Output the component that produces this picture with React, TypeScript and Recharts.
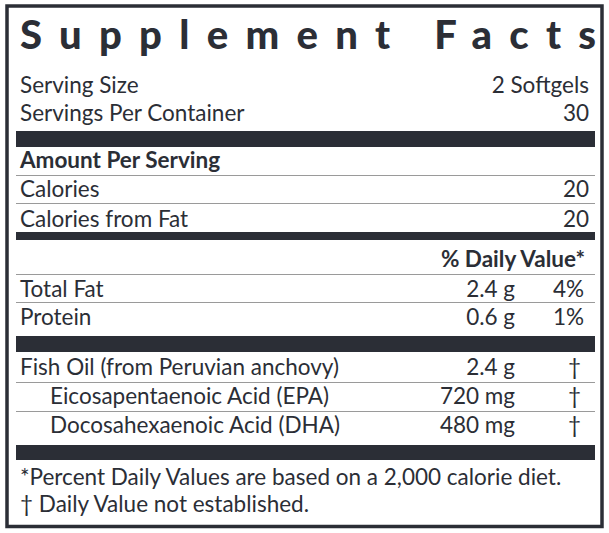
import { Surface, Layer, Text, Rectangle } from 'recharts'

const title = 'Supplement Facts'
const servingLabels = ['Serving Size', 'Servings Per Container']
const servingValues = ['2 Softgels', '30']
const amountHeader = 'Amount Per Serving'
const calorieLabels = ['Calories', 'Calories from Fat']
const calorieValues = [20, 20]
const dvHeader = '% Daily Value*'
const nutrientLabels = ['Total Fat', 'Protein']
const nutrientAmounts = ['2.4 g', '0.6 g']
const nutrientDailyValues = ['4%', '1%']
const oilLabels = [
  'Fish Oil (from Peruvian anchovy)',
  'Eicosapentaenoic Acid (EPA)',
  'Docosahexaenoic Acid (DHA)',
]
const oilIndented = [false, true, true]
const oilAmounts = ['2.4 g', '720 mg', '480 mg']
const oilDailyValues = ['†', '†', '†']
const footnotes = [
  '*Percent Daily Values are based on a 2,000 calorie diet.',
  '† Daily Value not established.',
]

const W = 609
const H = 533
const INK = '#2b2e36'
const RULE = '#9a9a9a'
const FONT = 'Lato, "Open Sans", sans-serif'
const LEFT = 16
const RIGHT = 595
const AMOUNT_X = 515
const DV_X = 584

const label = (x: number, y: number, s: string | number, anchor: 'start' | 'end' = 'start', bold = false) => (
  <Text
    x={x}
    y={y}
    textAnchor={anchor}
    verticalAnchor="end"
    fontFamily={FONT}
    fontSize={22.5}
    fontWeight={bold ? 700 : 400}
    fill={INK}
  >
    {s}
  </Text>
)

const thick = (y: number, h: number) => (
  <Rectangle x={LEFT} y={y} width={RIGHT - LEFT} height={h} fill={INK} />
)

const thin = (y: number) => (
  <Rectangle x={LEFT} y={y} width={RIGHT - LEFT} height={1} fill={RULE} />
)

export default function App() {
  return (
    <div style={{ position: 'absolute', left: 0, top: 0, width: W, height: H, background: '#fff' }}>
      <Surface width={W} height={H}>
        <Rectangle x={7} y={6} width={595} height={520.5} fill="none" stroke={INK} strokeWidth={3.5} />

        <text
          x={20}
          y={49}
          textLength={576}
          lengthAdjust="spacing"
          fontFamily={FONT}
          fontWeight={900}
          fontSize={40}
          fill={INK}
        >
          {title}
        </text>

        <Layer>
          {servingLabels.map((s, i) => (
            <Layer key={s}>
              {label(20, 93 + i * 28, s)}
              {label(589, 93 + i * 28, servingValues[i], 'end')}
            </Layer>
          ))}
        </Layer>
        {thick(131, 16)}

        {label(20, 168, amountHeader, 'start', true)}
        {thin(175)}
        {calorieLabels.map((s, i) => (
          <Layer key={s}>
            {label(20, 197 + i * 30, s)}
            {label(589, 197 + i * 30, calorieValues[i], 'end')}
          </Layer>
        ))}
        {thin(203)}
        {thick(232, 8)}

        {label(585, 267, dvHeader, 'end', true)}
        {thin(274)}
        {nutrientLabels.map((s, i) => (
          <Layer key={s}>
            {label(20, 297 + i * 28, s)}
            {label(AMOUNT_X, 297 + i * 28, nutrientAmounts[i], 'end')}
            {label(DV_X, 297 + i * 28, nutrientDailyValues[i], 'end')}
          </Layer>
        ))}
        {thin(302)}
        {thick(336, 16)}

        {oilLabels.map((s, i) => (
          <Layer key={s}>
            {label(oilIndented[i] ? 50 : 20, 375 + i * 29, s)}
            {label(AMOUNT_X, 375 + i * 29, oilAmounts[i], 'end')}
            {label(DV_X - 3, 375 + i * 29, oilDailyValues[i], 'end')}
          </Layer>
        ))}
        {thin(382)}
        {thin(411)}
        {thick(445, 15)}

        {footnotes.map((s, i) => (
          <Layer key={s}>{label(20, 485 + i * 27, s)}</Layer>
        ))}
      </Surface>
    </div>
  )
}
